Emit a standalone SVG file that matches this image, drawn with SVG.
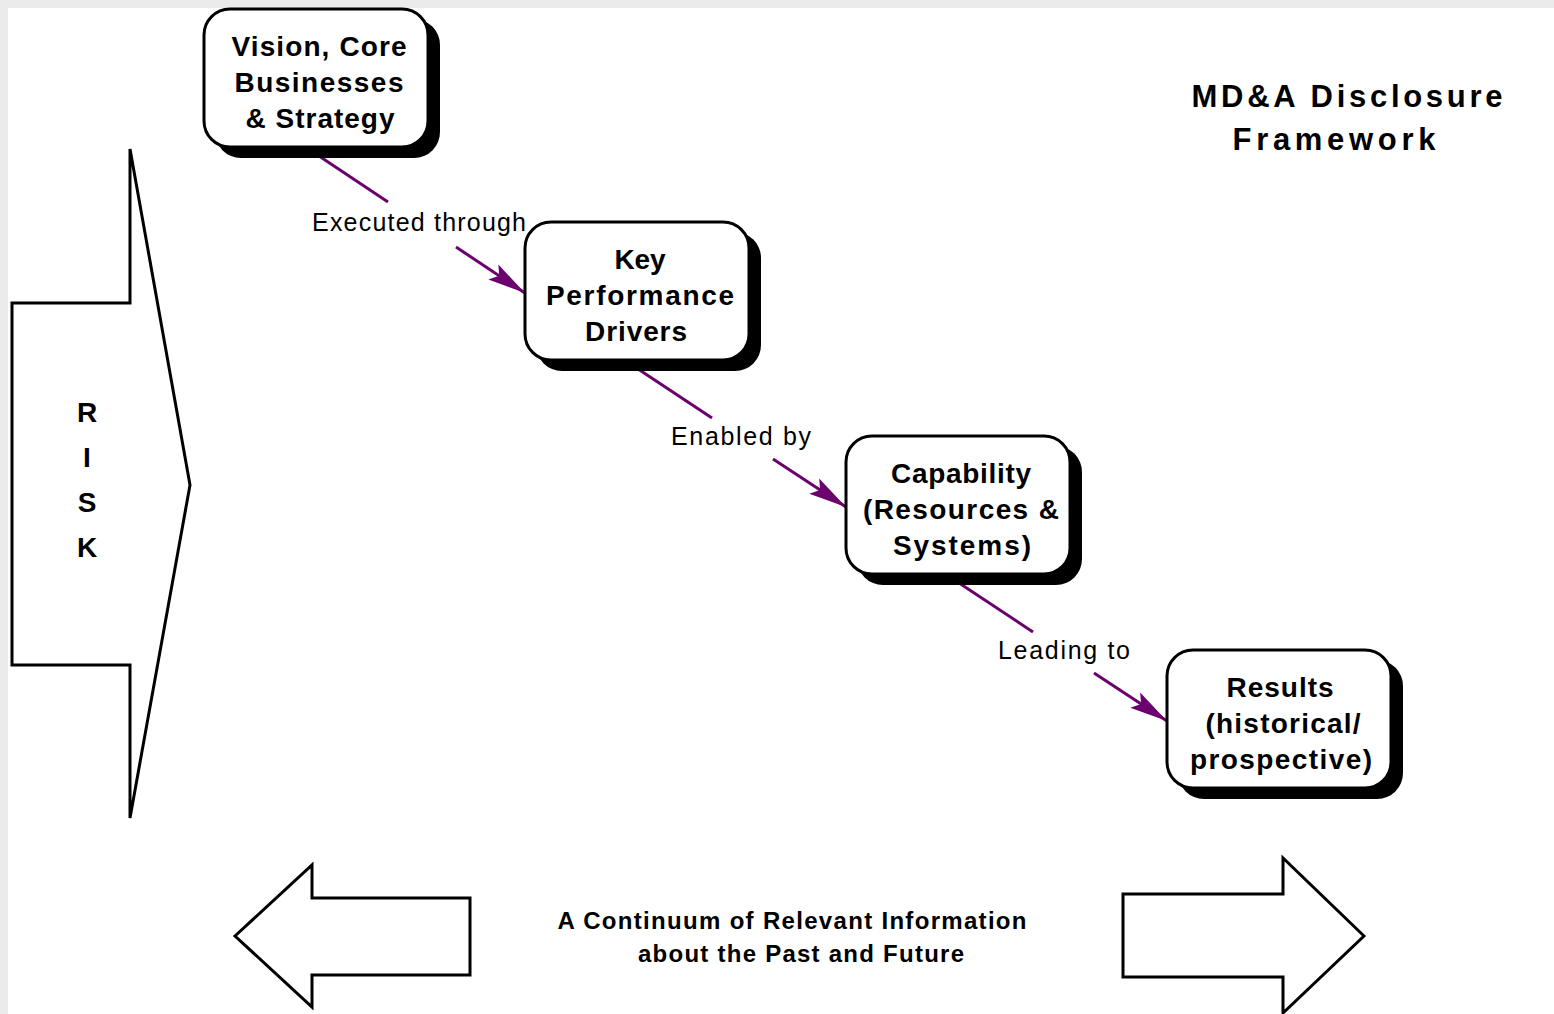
<svg xmlns="http://www.w3.org/2000/svg" width="1554" height="1014" viewBox="0 0 1554 1014">
  <style>
    .bg-edge { fill: #ebebeb; }
    .shadow { fill: #000; }
    .box { fill: #fff; stroke: #000; stroke-width: 3; }
    .shape { fill: #fff; stroke: #000; stroke-width: 3; stroke-linejoin: miter; }
    .nodetext { font-family: "Liberation Sans", Arial, sans-serif; font-weight: bold; font-size: 28px; fill: #000; text-anchor: middle; }
    .label { font-family: "Liberation Sans", Arial, sans-serif; font-size: 25px; fill: #000; text-anchor: middle; }
    .title { font-family: "Liberation Sans", Arial, sans-serif; font-weight: bold; font-size: 31px; fill: #000; text-anchor: middle; }
    .bottomtext { font-family: "Liberation Sans", Arial, sans-serif; font-weight: bold; font-size: 24px; fill: #000; text-anchor: middle; }
    .conn { stroke: #6c006f; stroke-width: 3; fill: none; }
  </style>
  <defs>
    <marker id="arrow" markerUnits="userSpaceOnUse" markerWidth="40" markerHeight="24" refX="38" refY="12" orient="auto">
      <path d="M0,3 L38,12 L0,21 L7,12 Z" fill="#6c006f"/>
    </marker>
  </defs>

  <!-- background -->
  <rect class="bg-edge" x="0" y="0" width="1554" height="1014"/>
  <rect x="8" y="8" width="1546" height="1006" fill="#fff"/>

  <!-- connectors -->
  <g id="connectors">
    <line class="conn" x1="310" y1="150" x2="388" y2="202"/>
    <line class="conn" x1="456" y1="247" x2="525" y2="293" marker-end="url(#arrow)"/>
    <text class="label" x="419" y="231" textLength="214" lengthAdjust="spacing">Executed through</text>

    <line class="conn" x1="632" y1="365" x2="712" y2="418"/>
    <line class="conn" x1="773" y1="459" x2="846" y2="507" marker-end="url(#arrow)"/>
    <text class="label" x="741" y="445" textLength="140" lengthAdjust="spacing">Enabled by</text>

    <line class="conn" x1="953" y1="579" x2="1033" y2="632"/>
    <line class="conn" x1="1094" y1="673" x2="1167" y2="721" marker-end="url(#arrow)"/>
    <text class="label" x="1064" y="659" textLength="132" lengthAdjust="spacing">Leading to</text>
  </g>

  <!-- RISK arrow -->
  <g id="risk">
    <polygon class="shape" points="12,303 130,303 130,149 190,485 130,818 130,665 12,665"/>
    <text class="nodetext" x="87" y="422">R</text>
    <text class="nodetext" x="87" y="467">I</text>
    <text class="nodetext" x="87" y="512">S</text>
    <text class="nodetext" x="87" y="557">K</text>
  </g>

  <!-- nodes -->
  <g id="node-vision">
    <rect class="shadow" x="215" y="19" width="225" height="139" rx="26"/>
    <rect class="box" x="204" y="9" width="224" height="138" rx="26"/>
    <text class="nodetext" x="319" y="56" textLength="175" lengthAdjust="spacing">Vision, Core</text>
    <text class="nodetext" x="319" y="92" textLength="169" lengthAdjust="spacing">Businesses</text>
    <text class="nodetext" x="320" y="128" textLength="149" lengthAdjust="spacing">&amp; Strategy</text>
  </g>

  <g id="node-kpd">
    <rect class="shadow" x="536" y="232" width="225" height="139" rx="26"/>
    <rect class="box" x="525" y="222" width="224" height="138" rx="26"/>
    <text class="nodetext" x="640" y="269" textLength="51" lengthAdjust="spacing">Key</text>
    <text class="nodetext" x="640" y="305" textLength="188" lengthAdjust="spacing">Performance</text>
    <text class="nodetext" x="636" y="341" textLength="102" lengthAdjust="spacing">Drivers</text>
  </g>

  <g id="node-capability">
    <rect class="shadow" x="857" y="446" width="225" height="139" rx="26"/>
    <rect class="box" x="846" y="436" width="224" height="138" rx="26"/>
    <text class="nodetext" x="961" y="483" textLength="140" lengthAdjust="spacing">Capability</text>
    <text class="nodetext" x="961" y="519" textLength="196" lengthAdjust="spacing">(Resources &amp;</text>
    <text class="nodetext" x="962" y="555" textLength="138" lengthAdjust="spacing">Systems)</text>
  </g>

  <g id="node-results">
    <rect class="shadow" x="1178" y="660" width="225" height="139" rx="26"/>
    <rect class="box" x="1167" y="650" width="224" height="138" rx="26"/>
    <text class="nodetext" x="1280" y="697" textLength="107" lengthAdjust="spacing">Results</text>
    <text class="nodetext" x="1283" y="733" textLength="155" lengthAdjust="spacing">(historical/</text>
    <text class="nodetext" x="1281" y="769" textLength="182" lengthAdjust="spacing">prospective)</text>
  </g>

  <!-- title -->
  <g id="title">
    <text class="title" x="1347" y="107" textLength="311" lengthAdjust="spacing">MD&amp;A Disclosure</text>
    <text class="title" x="1334" y="150" textLength="203" lengthAdjust="spacing">Framework</text>
  </g>

  <!-- bottom continuum -->
  <g id="continuum">
    <polygon class="shape" points="235,936 312,865 312,898 470,898 470,975 312,975 312,1007"/>
    <polygon class="shape" points="1364,936 1283,858 1283,894 1123,894 1123,977 1283,977 1283,1013"/>
    <text class="bottomtext" x="792" y="929" textLength="469" lengthAdjust="spacing">A Continuum of Relevant Information</text>
    <text class="bottomtext" x="801" y="962" textLength="326" lengthAdjust="spacing">about the Past and Future</text>
  </g>
</svg>
